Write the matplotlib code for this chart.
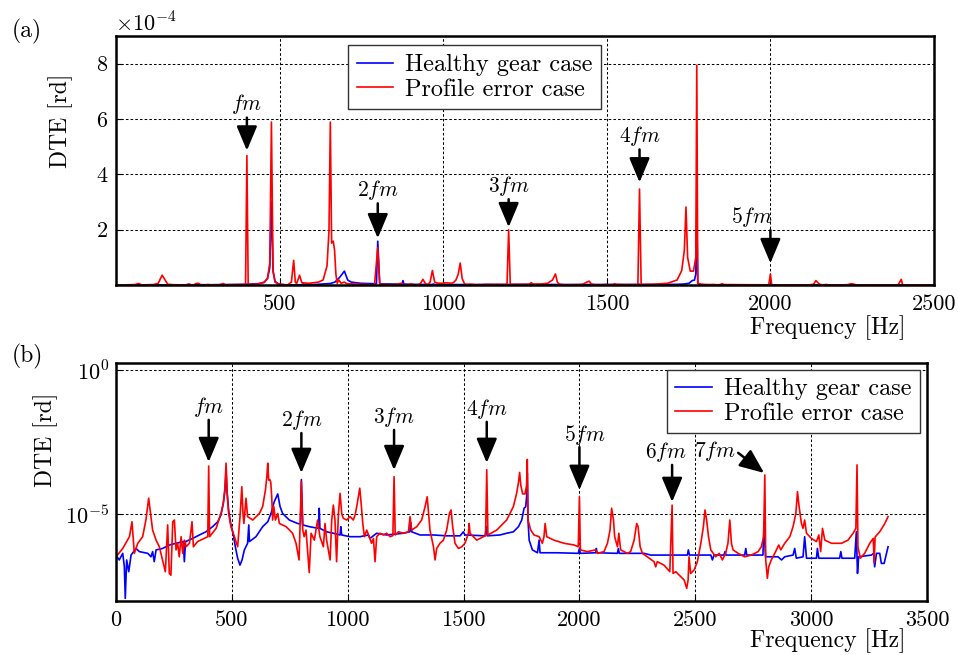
import numpy as np
import matplotlib
matplotlib.use("Agg")
import matplotlib.pyplot as plt

plt.rcParams['font.family'] = 'serif'
plt.rcParams['font.serif'] = ['cmr10']
plt.rcParams['mathtext.fontset'] = 'cm'
plt.rcParams['axes.unicode_minus'] = False
plt.rcParams['axes.formatter.use_mathtext'] = True

# ---------------- data (frequency in Hz, log10 of DTE in rd) ----------------
red_freq = [0, 29, 58, 69, 79, 94, 115, 129, 141, 158, 173, 187, 201, 213, 223, 230, 237, 245, 252, 259,
            266, 273, 281, 288, 295, 302, 317, 328, 334, 352, 381, 396, 400, 404, 432, 453, 463, 470, 475, 480,
            486, 496, 511, 525, 536, 543, 548, 552, 561, 568, 590, 619, 633, 645, 651, 655, 659, 664, 668, 672,
            676, 681, 688, 698, 705, 734, 762, 777, 790, 800, 806, 812, 820, 834, 842, 856, 870, 880, 895, 902,
            909, 924, 931, 938, 945, 952, 960, 967, 974, 981, 996, 1010, 1024, 1032, 1039, 1046, 1052, 1058, 1065, 1072,
            1082, 1093, 1103, 1111, 1118, 1125, 1139, 1154, 1168, 1183, 1195, 1200, 1205, 1219, 1240, 1262, 1269, 1276, 1298, 1319,
            1334, 1343, 1349, 1355, 1370, 1377, 1384, 1398, 1413, 1427, 1439, 1446, 1453, 1463, 1478, 1492, 1506, 1521, 1524, 1528,
            1557, 1585, 1595, 1600, 1605, 1643, 1686, 1715, 1729, 1737, 1742, 1747, 1755, 1765, 1772, 1775, 1778, 1790, 1804, 1826,
            1840, 1847, 1852, 1859, 1890, 1934, 1977, 1995, 2000, 2004, 2034, 2070, 2078, 2106, 2121, 2132, 2139, 2147, 2152, 2164,
            2170, 2178, 2207, 2221, 2236, 2247, 2253, 2262, 2272, 2293, 2322, 2329, 2336, 2365, 2390, 2400, 2404, 2416, 2437, 2452,
            2463, 2469, 2473, 2480, 2495, 2509, 2524, 2535, 2542, 2549, 2557, 2567, 2588, 2603, 2617, 2631, 2641, 2649, 2656, 2663,
            2685, 2713, 2742, 2771, 2785, 2795, 2800, 2804, 2811, 2817, 2828, 2843, 2860, 2869, 2886, 2908, 2922, 2934, 2941, 2948,
            2958, 2965, 2972, 2980, 3001, 3023, 3033, 3041, 3049, 3059, 3088, 3131, 3159, 3181, 3193, 3198, 3202, 3212, 3231, 3253,
            3268, 3272, 3276, 3296, 3318, 3332]
red_log = [-6.49, -6.20, -5.79, -5.27, -6.37, -6.02, -5.79, -5.21, -4.45, -5.56, -5.91, -6.14, -6.60, -7.01, -5.38, -7.07, -7.13, -5.27, -5.21, -6.25,
           -6.02, -6.49, -5.79, -6.37, -5.91, -6.14, -6.02, -5.27, -6.14, -5.96, -5.85, -5.79, -3.33, -5.79, -5.50, -4.98, -4.63, -4.10, -3.23, -4.30,
           -4.98, -5.44, -5.79, -6.14, -5.00, -4.05, -4.98, -5.33, -4.45, -5.09, -5.21, -4.98, -4.74, -4.16, -3.70, -3.23, -3.82, -3.80, -3.90, -4.40,
           -5.21, -4.74, -5.21, -4.98, -5.33, -5.44, -5.67, -6.02, -6.60, -3.87, -5.56, -5.79, -5.56, -7.04, -5.67, -5.91, -5.21, -5.79, -6.14, -5.33,
           -5.91, -6.60, -5.21, -4.69, -5.21, -6.66, -4.98, -4.28, -4.98, -5.15, -5.21, -5.09, -5.21, -5.03, -4.74, -4.40, -4.10, -4.63, -5.33, -5.79,
           -5.56, -5.79, -6.02, -5.85, -6.66, -5.79, -5.67, -5.73, -5.67, -5.79, -5.75, -3.70, -5.73, -5.62, -5.67, -5.62, -5.09, -5.56, -5.44, -5.21,
           -4.74, -4.40, -4.98, -5.56, -6.14, -6.60, -6.20, -6.02, -5.91, -5.56, -4.98, -4.86, -5.44, -6.02, -6.20, -6.14, -6.02, -5.67, -5.33, -5.67,
           -5.91, -5.79, -5.75, -3.46, -5.73, -5.56, -5.21, -4.74, -4.28, -3.90, -3.55, -4.00, -4.30, -4.30, -4.00, -3.10, -5.21, -5.56, -5.73, -5.79,
           -6.02, -5.79, -5.33, -5.79, -5.91, -6.02, -6.08, -6.14, -4.40, -6.25, -6.31, -6.25, -6.37, -6.31, -6.02, -5.56, -4.80, -5.21, -5.79, -6.14,
           -5.67, -6.25, -6.37, -6.31, -5.91, -5.33, -5.44, -6.14, -6.37, -6.49, -6.66, -6.84, -6.66, -6.78, -7.01, -4.69, -7.07, -7.01, -7.18, -7.30,
           -7.59, -7.30, -6.49, -7.07, -6.95, -6.66, -6.02, -5.44, -4.86, -5.21, -5.79, -6.25, -6.49, -6.37, -6.60, -6.37, -6.02, -5.21, -6.02, -6.25,
           -6.37, -6.49, -6.43, -6.31, -6.14, -5.79, -3.64, -6.60, -7.24, -6.84, -6.60, -6.37, -6.08, -6.25, -6.02, -5.79, -5.44, -4.98, -4.22, -4.74,
           -5.33, -5.50, -5.21, -5.67, -5.85, -5.96, -5.73, -6.31, -5.50, -5.91, -6.02, -6.02, -5.91, -5.67, -5.50, -3.29, -6.14, -6.54, -6.37, -6.02,
           -5.85, -6.70, -5.80, -5.62, -5.33, -5.09]

blue_freq = [0, 14, 29, 36, 40, 46, 55, 65, 86, 101, 137, 151, 158, 165, 173, 201, 230, 259, 290, 295,
             300, 331, 360, 388, 417, 439, 453, 463, 470, 475, 480, 486, 495, 505, 515, 525, 535, 544, 554, 568,
             573, 576, 604, 633, 655, 669, 683, 698, 708, 719, 748, 784, 796, 800, 806, 834, 874, 877, 880, 909,
             938, 967, 970, 974, 1010, 1053, 1089, 1096, 1125, 1168, 1240, 1268, 1272, 1276, 1312, 1370, 1427, 1485, 1499, 1506,
             1593, 1598, 1602, 1657, 1686, 1715, 1737, 1751, 1761, 1768, 1772, 1775, 1778, 1783, 1797, 1819, 1826, 1830, 1905, 1995,
             2000, 2004, 2070, 2073, 2076, 2164, 2168, 2172, 2279, 2308, 2466, 2470, 2475, 2567, 2574, 2581, 2624, 2628, 2632, 2713,
             2718, 2722, 2792, 2797, 2803, 2857, 2872, 2886, 2922, 2929, 2936, 2965, 2972, 2980, 3023, 3027, 3033, 3123, 3128, 3133,
             3188, 3195, 3200, 3205, 3260, 3270, 3274, 3282, 3296, 3303, 3315, 3325, 3332]
blue_log = [-6.43, -6.60, -6.37, -6.83, -7.94, -6.60, -7.01, -6.43, -6.20, -6.31, -6.37, -6.49, -6.31, -6.66, -6.25, -6.20, -6.08, -6.02, -5.96, -6.66,
            -5.96, -5.85, -5.73, -5.62, -5.44, -5.27, -5.03, -4.63, -4.20, -3.52, -4.30, -4.86, -5.33, -5.67, -6.14, -6.54, -6.78, -6.60, -6.25, -6.02,
            -5.38, -5.96, -5.79, -5.44, -5.27, -4.98, -4.57, -4.30, -4.74, -4.98, -5.21, -5.33, -5.35, -3.80, -5.38, -5.44, -5.50, -4.80, -5.50, -5.62,
            -5.67, -5.73, -5.44, -5.73, -5.79, -5.79, -5.73, -5.85, -5.67, -5.73, -5.67, -5.62, -5.30, -5.62, -5.73, -5.73, -5.76, -5.76, -5.62, -5.73,
            -5.76, -5.44, -5.76, -5.73, -5.67, -5.62, -5.44, -5.21, -4.80, -4.75, -4.40, -3.57, -5.21, -5.91, -6.25, -6.35, -5.91, -6.35, -6.35, -6.37,
            -6.20, -6.37, -6.35, -6.20, -6.35, -6.37, -6.20, -6.37, -6.37, -6.43, -6.43, -6.25, -6.43, -6.43, -6.60, -6.43, -6.43, -6.31, -6.43, -6.43,
            -6.20, -6.43, -6.43, -5.27, -6.49, -6.49, -6.60, -6.49, -6.43, -6.20, -6.54, -6.49, -5.79, -6.54, -6.54, -6.20, -6.54, -6.54, -6.31, -6.54,
            -6.54, -5.62, -7.07, -6.49, -6.43, -6.37, -6.84, -6.37, -6.37, -6.72, -6.72, -6.37, -6.14]

series_labels = ['Healthy gear case', 'Profile error case']

# harmonic annotations: label, target freq, (a) arrow start/tip [x1e-4], (b) arrow start/tip [log10]
ann_a_labels = [r'$fm$', r'$2fm$', r'$3fm$', r'$4fm$', r'$5fm$']
ann_a_freq = [400, 800, 1200, 1600, 2000]
ann_a_start = [6.05, 2.95, 3.10, 4.90, 1.98]
ann_a_tip = [4.86, 1.69, 2.09, 3.71, 0.79]
ann_a_textdx = [0, 0, 0, 0, -58]

ann_b_labels = [r'$fm$', r'$2fm$', r'$3fm$', r'$4fm$', r'$5fm$', r'$6fm$']
ann_b_freq = [400, 800, 1200, 1600, 2000, 2400]
ann_b_start = [-1.72, -2.18, -2.07, -1.79, -2.67, -3.29]
ann_b_tip = [-3.19, -3.57, -3.47, -3.22, -4.16, -4.58]
ann_b_textdx = [0, 0, 0, 0, 25, -25]
ann_b7 = dict(label=r'$7fm$', start=(2685, -2.87), tip=(2797, -3.57))

# ---------------- figure ----------------
W, H = 958, 655
fig = plt.figure(figsize=(W / 100, H / 100), dpi=100)
ax1 = fig.add_axes([116 / W, 1 - 285 / H, (934 - 116) / W, (285 - 36) / H])
ax2 = fig.add_axes([116 / W, 1 - 601 / H, (927 - 116) / W, (601 - 363) / H])

rf = np.array(red_freq, float)
rv = 10.0 ** np.array(red_log)
bf = np.array(blue_freq, float)
bv = 10.0 ** np.array(blue_log)

FS_TICK = 16
FS_LAB = 17
FS_LEG = 17.5
FS_ANN = 15.5
LW = 1.2
grid_kw = dict(color='k', linestyle=(0, (2.5, 2.0)), linewidth=0.75)
arrow_kw = dict(arrowstyle='-|>,head_length=1.0,head_width=0.42', lw=1.8, color='k',
                shrinkA=0, shrinkB=0, mutation_scale=15)

for ax in (ax1, ax2):
    for s in ax.spines.values():
        s.set_linewidth(1.8)
    ax.tick_params(direction='in', length=4, width=0.8, labelsize=FS_TICK, top=False, right=False)
    ax.set_axisbelow(True)

# ---- panel (a) ----
ax1.plot(bf, bv * 1e4, color='#0000ff', lw=LW, label=series_labels[0])
ax1.plot(rf, rv * 1e4, color='#ff0000', lw=LW, label=series_labels[1])
ax1.set_xlim(0, 2500)
ax1.set_ylim(0, 9)
ax1.set_xticks([500, 1000, 1500, 2000, 2500])
ax1.set_xticklabels(['500', '1000', '1500', '2000', '2500'])
ax1.set_yticks([2, 4, 6, 8])
ax1.set_yticklabels(['2', '4', '6', '8'])
ax1.grid(True, **grid_kw)
ax1.tick_params(axis='x', pad=7)
ax1.tick_params(axis='y', pad=6)
ax1.set_xlabel('Frequency [Hz]', fontsize=FS_LAB)
ax1.xaxis.set_label_coords(0.87, -0.12)
ax1.set_ylabel('DTE [rd]', fontsize=FS_LAB)
ax1.yaxis.set_label_coords(-0.053, 0.66)
leg1 = ax1.legend(loc='upper left', bbox_to_anchor=(0.284, 0.962), fontsize=FS_LEG, frameon=True,
                  fancybox=False, edgecolor='0.2', framealpha=1, handlelength=1.5,
                  labelspacing=0.1, borderpad=0.35, handletextpad=0.5, borderaxespad=0)
leg1.get_frame().set_linewidth(1.0)
fig.text(115 / W, 1 - 23 / H, r'$\times10^{\mathrm{-}4}$', fontsize=FS_TICK, ha='left', va='center')

for lab, f, s0, t0, dx in zip(ann_a_labels, ann_a_freq, ann_a_start, ann_a_tip, ann_a_textdx):
    ax1.annotate('', xy=(f, t0), xytext=(f, s0), arrowprops=arrow_kw)
    ax1.text(f + dx, s0 + 0.05, lab, fontsize=FS_ANN, ha='center', va='bottom')

# ---- panel (b) ----
ax2.semilogy(bf, bv, color='#0000ff', lw=LW, label=series_labels[0])
ax2.semilogy(rf, rv, color='#ff0000', lw=LW, label=series_labels[1])
ax2.set_xlim(0, 3500)
ax2.set_ylim(10 ** -8.03, 10 ** 0.26)
ax2.set_xticks([0, 500, 1000, 1500, 2000, 2500, 3000, 3500])
ax2.set_xticklabels(['0', '500', '1000', '1500', '2000', '2500', '3000', '3500'])
ax2.set_yticks([1e-5, 1e0])
ax2.set_yticklabels([r'$10^{\mathrm{-}5}$', r'$10^{0}$'])
ax2.yaxis.set_minor_locator(matplotlib.ticker.NullLocator())
ax2.grid(True, **grid_kw)
ax2.tick_params(axis='x', pad=7)
ax2.tick_params(axis='y', pad=5)
ax2.set_xlabel('Frequency [Hz]', fontsize=FS_LAB)
ax2.xaxis.set_label_coords(0.878, -0.115)
ax2.set_ylabel('DTE [rd]', fontsize=FS_LAB)
ax2.yaxis.set_label_coords(-0.0715, 0.676)
leg2 = ax2.legend(loc='upper right', bbox_to_anchor=(0.991, 0.972), fontsize=FS_LEG, frameon=True,
                  fancybox=False, edgecolor='0.2', framealpha=1, handlelength=1.5,
                  labelspacing=0.1, borderpad=0.35, handletextpad=0.5, borderaxespad=0)
leg2.get_frame().set_linewidth(1.0)

for lab, f, s0, t0, dx in zip(ann_b_labels, ann_b_freq, ann_b_start, ann_b_tip, ann_b_textdx):
    ax2.annotate('', xy=(f, 10 ** t0), xytext=(f, 10 ** s0), arrowprops=arrow_kw)
    ax2.text(f + dx, 10 ** (s0 + 0.02), lab, fontsize=FS_ANN, ha='center', va='bottom')

(sx, sy), (tx, ty) = ann_b7['start'], ann_b7['tip']
ax2.annotate('', xy=(tx, 10 ** ty), xytext=(sx, 10 ** sy), arrowprops=arrow_kw)
ax2.text(sx - 10, 10 ** (sy + 0.05), ann_b7['label'], fontsize=FS_ANN, ha='right', va='center')

fig.text(27 / W, 1 - 31 / H, '(a)', fontsize=FS_LAB, ha='center', va='center')
fig.text(27 / W, 1 - 356 / H, '(b)', fontsize=FS_LAB, ha='center', va='center')

fig.savefig('out.png', dpi=100)
